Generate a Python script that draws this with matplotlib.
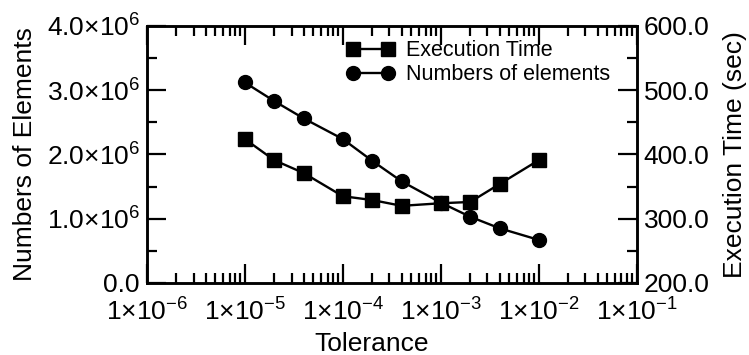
import numpy as np
import matplotlib
matplotlib.use('Agg')
import matplotlib.pyplot as plt
from matplotlib.ticker import FixedLocator, FixedFormatter, LogLocator, NullFormatter

plt.rcParams['font.family'] = ['Liberation Sans', 'DejaVu Sans']
plt.rcParams['mathtext.fontset'] = 'custom'
plt.rcParams['mathtext.rm'] = 'Liberation Sans'
plt.rcParams['mathtext.it'] = 'Liberation Sans'
plt.rcParams['mathtext.default'] = 'regular'

# data
tolerance = [1e-5, 2e-5, 4e-5, 1e-4, 2e-4, 4e-4, 1e-3, 2e-3, 4e-3, 1e-2]
n_elements = [3.12e6, 2.83e6, 2.56e6, 2.24e6, 1.90e6, 1.58e6, 1.25e6, 1.03e6, 0.85e6, 0.67e6]
exec_time = [424, 391, 371, 335, 329, 320, 324, 326, 354, 391]

x_ticks = [1e-6, 1e-5, 1e-4, 1e-3, 1e-2, 1e-1]
x_labels = [r'$1{\times}10^{-6}$', r'$1{\times}10^{-5}$', r'$1{\times}10^{-4}$',
            r'$1{\times}10^{-3}$', r'$1{\times}10^{-2}$', r'$1{\times}10^{-1}$']
left_ticks = [0, 1e6, 2e6, 3e6, 4e6]
left_labels = ['0.0', r'$1.0{\times}10^{6}$', r'$2.0{\times}10^{6}$',
               r'$3.0{\times}10^{6}$', r'$4.0{\times}10^{6}$']
right_ticks = [200, 300, 400, 500, 600]
right_labels = ['200.0', '300.0', '400.0', '500.0', '600.0']

fs = 19
fig = plt.figure(figsize=(7.49, 3.55), dpi=100)
ax = fig.add_axes([0.196, 0.203, 0.654, 0.724])
ax2 = ax.twinx()

l1, = ax2.plot(tolerance, exec_time, color='black', lw=1.7, marker='s', ms=9.5,
               label='Execution Time')
l2, = ax.plot(tolerance, n_elements, color='black', lw=1.7, marker='o', ms=10,
              label='Numbers of elements')

ax.set_xscale('log')
ax.set_xlim(1e-6, 1e-1)
ax.set_ylim(0, 4e6)
ax2.set_ylim(200, 600)

ax.xaxis.set_major_locator(FixedLocator(x_ticks))
ax.xaxis.set_major_formatter(FixedFormatter(x_labels))
ax.xaxis.set_minor_locator(LogLocator(base=10, subs=np.arange(2, 10)))
ax.xaxis.set_minor_formatter(NullFormatter())

ax.yaxis.set_major_locator(FixedLocator(left_ticks))
ax.yaxis.set_major_formatter(FixedFormatter(left_labels))
ax.yaxis.set_minor_locator(FixedLocator([0.5e6, 1.5e6, 2.5e6, 3.5e6]))
ax2.yaxis.set_major_locator(FixedLocator(right_ticks))
ax2.yaxis.set_major_formatter(FixedFormatter(right_labels))
ax2.yaxis.set_minor_locator(FixedLocator([250, 350, 450, 550]))

ax.tick_params(which='both', direction='in', top=True, right=False, labelsize=fs, width=1.6)
ax.tick_params(axis='y', which='major', length=13.5, pad=5)
ax.tick_params(axis='x', which='major', length=13.5, pad=11)
ax.tick_params(which='minor', length=7)
ax2.tick_params(which='both', direction='in', labelsize=fs, width=1.6)
ax2.tick_params(which='major', length=13.5, pad=5)
ax2.tick_params(which='minor', length=7)

for a in (ax, ax2):
    for s in a.spines.values():
        s.set_linewidth(1.8)

ax.set_xlabel('Tolerance', fontsize=fs, labelpad=5, x=0.459)
ax.set_ylabel('Numbers of Elements', fontsize=fs, labelpad=7)
ax2.set_ylabel('Execution Time (sec)', fontsize=fs, labelpad=10)

ax2.legend([l1, l2], ['Execution Time', 'Numbers of elements'], loc='upper left',
           bbox_to_anchor=(0.407, 0.945), frameon=False, fontsize=15.5, numpoints=2,
           handlelength=2.23, handletextpad=0.55, labelspacing=0.15,
           borderpad=0, borderaxespad=0)

fig.savefig('out.png', dpi=100)
